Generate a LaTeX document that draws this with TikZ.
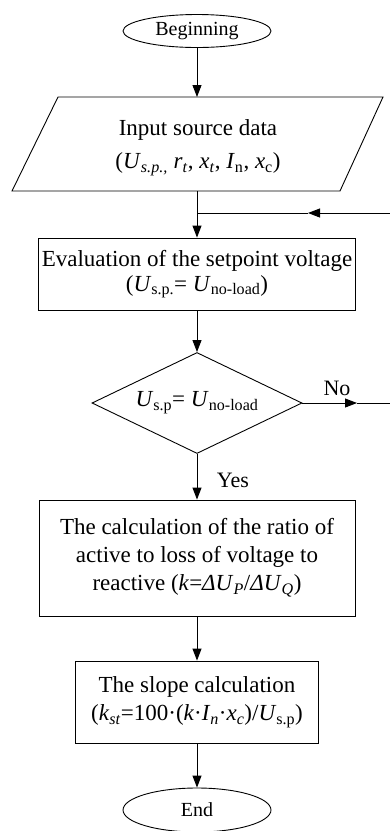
\documentclass[tikz,border=0pt]{standalone}
\usepackage{fontspec}
\setmainfont{Liberation Serif}
\usepackage{tikz}
\usetikzlibrary{arrows.meta, shapes.geometric}
\newcommand{\vsub}[2]{\textit{#1}\textsubscript{#2}}
\tikzset{
  flow/.style={
    line width=0.9pt,
    color=black
  },
  flow arrow/.style={
    -{Triangle[length=12pt, width=9pt]},
    line width=0.9pt,
    color=black
  },
  terminal/.style={
    ellipse,
    draw,
    line width=0.9pt,
    inner sep=0pt,
    font=\fontsize{20}{24}\selectfont
  },
  process/.style={
    rectangle,
    draw,
    line width=0.9pt,
    inner sep=0pt,
    align=center,
    font=\fontsize{23}{28}\selectfont
  },
  decision/.style={
    diamond,
    draw,
    line width=0.9pt,
    inner sep=0pt,
    aspect=2,
    font=\fontsize{23}{28}\selectfont
  },
  branch label/.style={
    font=\fontsize{22}{26}\selectfont
  }
}

\begin{document}
\begin{tikzpicture}[x=1pt, y=-1pt]
  \useasboundingbox (0,0) rectangle (390,831);

  %% ---- start and input ----
  \node[terminal, minimum width=148pt, minimum height=33pt] (start) at (197,31) {Beginning};
  \draw[flow] (58,97) -- (383,97) -- (340,191) -- (12,191) -- cycle;
  \node[align=center, font=\fontsize{23}{33}\selectfont] (input) at (198,148)
    {Input source data\\(\vsub{U}{\textit{s.p.,}} \vsub{r}{\textit{t}}, \vsub{x}{\textit{t}}, \vsub{I}{n}, \vsub{x}{c})};
  \coordinate (intop) at (197,97);
  \coordinate (inbot) at (197,191);
  \draw[flow arrow] (start) -- (intop);

  %% ---- loop back junction ----
  \coordinate (join)    at (197,213);
  \coordinate (looptip) at (308,213);
  \coordinate (loopin)  at (393,213);
  \coordinate (notip)   at (357,403);
  \coordinate (loopout) at (393,403);

  %% ---- evaluation and check ----
  \node[process, minimum width=317pt, minimum height=72pt] (eval) at (197,274)
    {Evaluation of the setpoint voltage\\[-3pt](\vsub{U}{s.p.}= \vsub{U}{no-load})};
  \node[decision, minimum width=210pt, minimum height=101pt] (check) at (197,403)
    {\vsub{U}{s.p}= \vsub{U}{no-load}};

  \draw[flow] (inbot) -- (join);
  \draw[flow arrow] (join) -- (eval);
  \draw[flow arrow] (eval) -- (check);
  \draw[flow arrow] (check.east) -- (notip);
  \draw[flow] (notip) -- (loopout) -- (loopin);
  \draw[flow arrow] (loopin) -- (looptip);
  \draw[flow] (looptip) -- (join);
  \node[branch label] (nolabel) at (337,388) {No};

  %% ---- ratio and slope ----
  \node[process, minimum width=316pt, minimum height=116pt] (ratio) at (197,558)
    {The calculation of the ratio of\\active to loss of voltage to\\reactive (\textit{k}=\textit{Δ}\vsub{U}{\textit{P}}/\textit{Δ}\vsub{U}{\textit{Q}})};
  \node[process, minimum width=243pt, minimum height=82pt] (slope) at (197,702)
    {The slope calculation\\(\vsub{k}{\textit{st}}=100·(\textit{k}·\vsub{I}{\textit{n}}·\vsub{x}{\textit{c}})/\vsub{U}{s.p})};
  \node[terminal, minimum width=148pt, minimum height=44pt] (stop) at (197,810) {End};

  \draw[flow arrow] (check) -- (ratio);
  \node[branch label] (yeslabel) at (233,480) {Yes};
  \draw[flow arrow] (ratio) -- (slope);
  \draw[flow arrow] (slope) -- (stop);

\end{tikzpicture}
\end{document}
